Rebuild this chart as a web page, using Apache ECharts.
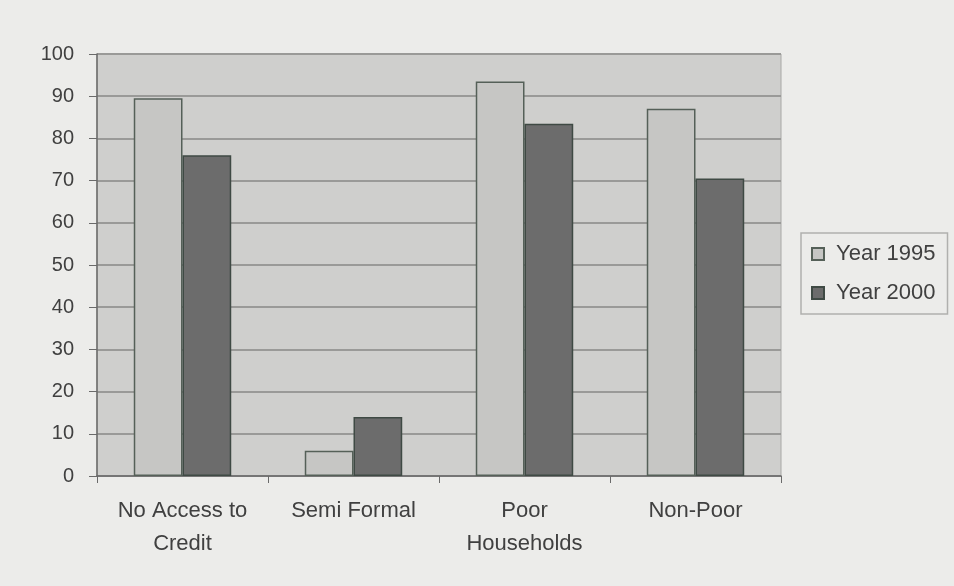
<!DOCTYPE html>
<html>
<head>
<meta charset="utf-8">
<script src="https://cdn.jsdelivr.net/npm/echarts@6/dist/echarts.min.js"></script>
<style>
  html, body { margin: 0; padding: 0; background: #ececea; }
  #main { width: 954px; height: 586px; }
</style>
</head>
<body>
<div id="main"></div>
<script>
// data
var categories = ['No Access to\nCredit', 'Semi Formal', 'Poor\nHouseholds', 'Non-Poor'];
var year1995 = [89.5, 6, 93.5, 87];
var year2000 = [76, 14, 83.5, 70.5];
var yTicks = [0, 10, 20, 30, 40, 50, 60, 70, 80, 90, 100];

var chart = echarts.init(document.getElementById('main'));

var font = 'Liberation Sans, Arial, sans-serif';

var option = {
  backgroundColor: '#ececea',
  animation: false,
  textStyle: { fontFamily: font },
  grid: {
    left: 97,
    right: 173,
    top: 54,
    bottom: 110,
    show: true,
    backgroundColor: '#cfcfcd',
    borderColor: '#a8a8a6',
    borderWidth: 1
  },
  legend: {
    orient: 'vertical',
    left: 801,
    top: 233,
    padding: [10, 12, 10, 10],
    itemWidth: 12,
    itemHeight: 12,
    itemGap: 17,
    icon: 'rect',
    borderColor: '#b0b0ae',
    borderWidth: 1.5,
    backgroundColor: '#ececea',
    textStyle: { fontSize: 22, color: '#404040', fontFamily: font, padding: [0, 0, 0, 7] },
    data: ['Year 1995', 'Year 2000']
  },
  xAxis: {
    type: 'category',
    data: categories,
    axisLine: { lineStyle: { color: '#6a6a6a', width: 1.5 } },
    axisTick: { show: true, length: 7, lineStyle: { color: '#6a6a6a' } },
    axisLabel: {
      fontSize: 22,
      color: '#404040',
      margin: 18,
      lineHeight: 33,
      interval: 0
    }
  },
  yAxis: {
    type: 'value',
    min: yTicks[0],
    max: yTicks[yTicks.length - 1],
    interval: 10,
    axisLine: { show: true, lineStyle: { color: '#6a6a6a', width: 1.5 } },
    axisTick: { show: true, inside: false, length: 8, lineStyle: { color: '#6a6a6a' } },
    axisLabel: { fontSize: 20, color: '#404040', margin: 23 },
    splitLine: { lineStyle: { color: '#9a9a98', width: 2 } }
  },
  series: [
    {
      name: 'Year 1995',
      type: 'bar',
      data: year1995,
      barGap: '0%',
      barCategoryGap: '43%',
      itemStyle: { color: '#c6c6c4', borderColor: '#556058', borderWidth: 1.5 }
    },
    {
      name: 'Year 2000',
      type: 'bar',
      data: year2000,
      itemStyle: { color: '#6c6c6c', borderColor: '#3f4a44', borderWidth: 1.5 }
    }
  ]
};

chart.setOption(option);
</script>
</body>
</html>
